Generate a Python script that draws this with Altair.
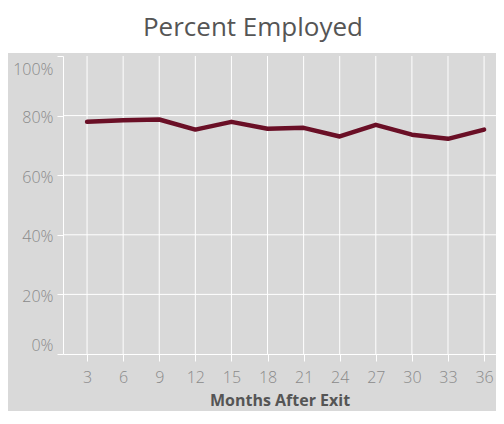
import altair as alt
import pandas as pd

months = [3, 6, 9, 12, 15, 18, 21, 24, 27, 30, 33, 36]
pct = [0.779, 0.784, 0.787, 0.753, 0.779, 0.756, 0.759, 0.730, 0.769, 0.736, 0.722, 0.753]
x_ticks = [3, 6, 9, 12, 15, 18, 21, 24, 27, 30, 33, 36]
y_ticks = [0, 0.2, 0.4, 0.6, 0.8, 1.0]
y_grid = [0.2, 0.4, 0.6, 0.8]
panel = [0]

df = pd.DataFrame({"Months After Exit": months, "Percent Employed": pct})

GRAY = "#d9d9d9"
LABEL = "#8a8a8a"
FONT = "Open Sans"
W, H = 433, 298

xscale = alt.Scale(domain=[1, 36.99], nice=False, zero=False)
yscale = alt.Scale(domain=[0, 1], nice=False, zero=False)

x_axis = alt.Axis(
    values=x_ticks, grid=False, zindex=1, labelOverlap=False,
    domainColor="white", tickColor="white", tickSize=7,
    labelColor=LABEL, labelFontSize=16, labelFont=FONT, labelFontWeight=300,
    labelPadding=8,
    title="Months After Exit", titleFont=FONT, titleFontSize=16,
    titleFontWeight="bold", titleColor="#555555", titlePadding=7,
)
y_axis = alt.Axis(
    values=y_ticks, format="%", grid=False, zindex=1, labelOverlap=False,
    domainColor="white", tickColor="white", tickSize=6,
    labelColor=LABEL, labelFontSize=16, labelFont=FONT, labelFontWeight=300,
    labelPadding=4, labelFlush=True, labelFlushOffset=-3, labelOffset=2, title=None,
)

bg = alt.Chart(pd.DataFrame({"p": panel})).mark_rect(color=GRAY).encode(
    x=alt.value(-55), x2=alt.value(W + 2), y=alt.value(-3), y2=alt.value(H + 60)
)

vgrid = alt.Chart(pd.DataFrame({"Months After Exit": x_ticks})).mark_rule(
    color="white", strokeWidth=1
).encode(x=alt.X("Months After Exit:Q", scale=xscale, axis=x_axis))

hgrid = alt.Chart(pd.DataFrame({"Percent Employed": y_grid})).mark_rule(
    color="white", strokeWidth=1
).encode(y=alt.Y("Percent Employed:Q", scale=yscale, axis=y_axis))

line = alt.Chart(df).mark_line(
    color="#6a0f26", strokeWidth=4.5, strokeCap="round", strokeJoin="round"
).encode(
    x=alt.X("Months After Exit:Q", scale=xscale, axis=x_axis),
    y=alt.Y("Percent Employed:Q", scale=yscale, axis=y_axis),
)

chart = alt.layer(bg, vgrid, hgrid, line).properties(
    width=W, height=H,
    title=alt.TitleParams(
        "Percent Employed", font=FONT, fontSize=26, fontWeight="normal",
        color="#555555", anchor="middle", frame="bounds", offset=12,
    ),
    background="white",
    padding={"left": 55, "top": 48, "right": 0, "bottom": 57},
    autosize=alt.AutoSizeParams(type="none"),
).configure_view(stroke=None).configure_axis(labelOverlap=False)

chart.save("out.html", embed_options={"renderer": "svg", "actions": False})
